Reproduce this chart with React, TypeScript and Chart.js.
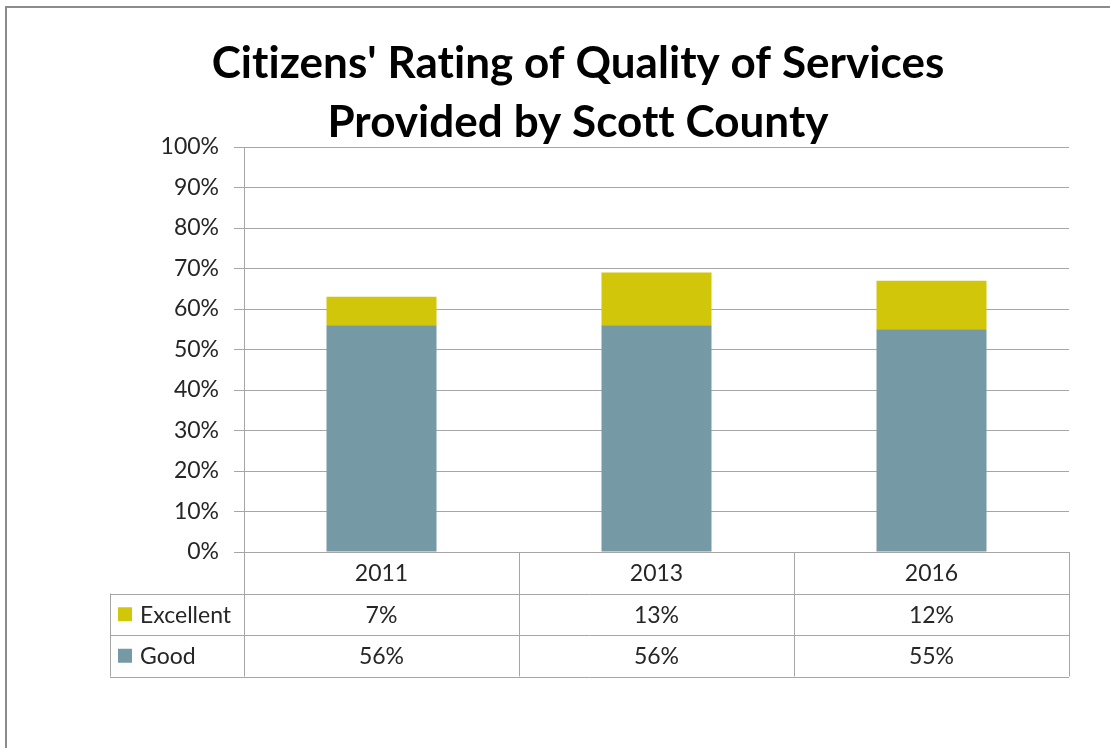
import React, { useEffect, useRef } from "react";
import { Chart, registerables } from "chart.js";

Chart.register(...registerables);

const TITLE_LINES = ["Citizens' Rating of Quality of Services", "Provided by Scott County"];
const CATEGORIES = ["2011", "2013", "2016"];
const EXCELLENT = [7, 13, 12];
const GOOD = [56, 56, 55];
const SERIES_NAMES = ["Excellent", "Good"];
const Y_TICK_STEP = 10;
const Y_MAX = 100;

const COLOR_EXCELLENT = "#D2C60B";
const COLOR_GOOD = "#7699A6";
const GRID = "#A6A6A6";
const TEXT = "#262626";
const FONT = "Lato, 'Open Sans', sans-serif";

const W = 1110;
const H = 748;

const tablePlugin = {
  id: "dataTableAndTitle",
  afterDraw(chart: any) {
    const ctx = chart.ctx as CanvasRenderingContext2D;
    const area = chart.chartArea;
    const xs = chart.scales.x;
    ctx.save();

    // outer frame
    ctx.strokeStyle = "#8C8C8C";
    ctx.lineWidth = 2;
    ctx.beginPath();
    ctx.moveTo(6, H + 2);
    ctx.lineTo(6, 7);
    ctx.lineTo(W + 2, 7);
    ctx.stroke();

    // title (letter spacing disables the Lato "ti"/"tt" ligatures)
    ctx.fillStyle = "#000";
    ctx.font = `bold 44px ${FONT}`;
    (ctx as any).letterSpacing = "0.05px";
    ctx.textAlign = "center";
    ctx.textBaseline = "alphabetic";
    const titleX = 578;
    ctx.fillText(TITLE_LINES[0], titleX, 78);
    ctx.fillText(TITLE_LINES[1], titleX, 137);
    (ctx as any).letterSpacing = "0px";

    // data table
    const rowH = 41.5;
    const top = area.bottom;
    const legendLeft = area.left - 134;
    const n = CATEGORIES.length;
    const colW = (area.right - area.left) / n;
    const rows = [top, top + rowH, top + 2 * rowH, top + 3 * rowH];

    ctx.strokeStyle = GRID;
    ctx.lineWidth = 1;
    ctx.beginPath();
    for (let r = 1; r < rows.length; r++) {
      const y = Math.round(rows[r]) + 0.5;
      ctx.moveTo(legendLeft, y);
      ctx.lineTo(area.right, y);
    }
    const lx = Math.round(legendLeft) + 0.5;
    ctx.moveTo(lx, rows[1]);
    ctx.lineTo(lx, rows[3]);
    for (let i = 0; i <= n; i++) {
      const x = Math.round(area.left + i * colW) + 0.5;
      ctx.moveTo(x, top);
      ctx.lineTo(x, rows[3]);
    }
    ctx.stroke();

    ctx.fillStyle = TEXT;
    ctx.font = `23px ${FONT}`;
    ctx.textAlign = "center";
    ctx.textBaseline = "middle";
    CATEGORIES.forEach((c, i) => {
      const cx = xs.getPixelForValue(i);
      ctx.fillText(c, cx, (rows[0] + rows[1]) / 2 + 1);
      ctx.fillText(EXCELLENT[i] + "%", cx, (rows[1] + rows[2]) / 2 + 1);
      ctx.fillText(GOOD[i] + "%", cx, (rows[2] + rows[3]) / 2 + 1);
    });

    const keyColors = [COLOR_EXCELLENT, COLOR_GOOD];
    SERIES_NAMES.forEach((name, r) => {
      const cy = (rows[r + 1] + rows[r + 2]) / 2;
      ctx.fillStyle = keyColors[r];
      ctx.fillRect(legendLeft + 8, cy - 7, 14, 14);
      ctx.fillStyle = TEXT;
      ctx.textAlign = "left";
      ctx.fillText(name, legendLeft + 30, cy + 1);
    });

    ctx.restore();
  },
};

export default function App() {
  const ref = useRef<HTMLCanvasElement | null>(null);

  useEffect(() => {
    if (!ref.current) return;
    const chart = new Chart(ref.current, {
      type: "bar",
      data: {
        labels: CATEGORIES,
        datasets: [
          {
            label: SERIES_NAMES[1],
            data: GOOD,
            backgroundColor: COLOR_GOOD,
            categoryPercentage: 0.4,
            barPercentage: 1,
          },
          {
            label: SERIES_NAMES[0],
            data: EXCELLENT,
            backgroundColor: COLOR_EXCELLENT,
            categoryPercentage: 0.4,
            barPercentage: 1,
          },
        ],
      },
      options: {
        animation: false,
        responsive: false,
        layout: { padding: { top: 147, bottom: H - 552, left: 0, right: W - 1069 } },
        plugins: {
          legend: { display: false },
          title: { display: false },
          tooltip: { enabled: false },
        },
        scales: {
          x: { stacked: true, display: false },
          y: {
            stacked: true,
            min: 0,
            max: Y_MAX,
            afterFit: (s: any) => {
              s.width = 244;
            },
            ticks: {
              stepSize: Y_TICK_STEP,
              padding: 15,
              color: TEXT,
              font: { family: FONT, size: 23 },
              callback: (v: any) => v + "%",
            },
            grid: { color: GRID, lineWidth: 1, drawTicks: true, tickLength: 10 },
            border: { display: true, color: GRID },
          },
        },
      },
      plugins: [tablePlugin],
    });
    return () => chart.destroy();
  }, []);

  return (
    <canvas
      ref={ref}
      width={W}
      height={H}
      style={{ position: "fixed", left: 0, top: 0, display: "block", background: "#fff" }}
    />
  );
}
